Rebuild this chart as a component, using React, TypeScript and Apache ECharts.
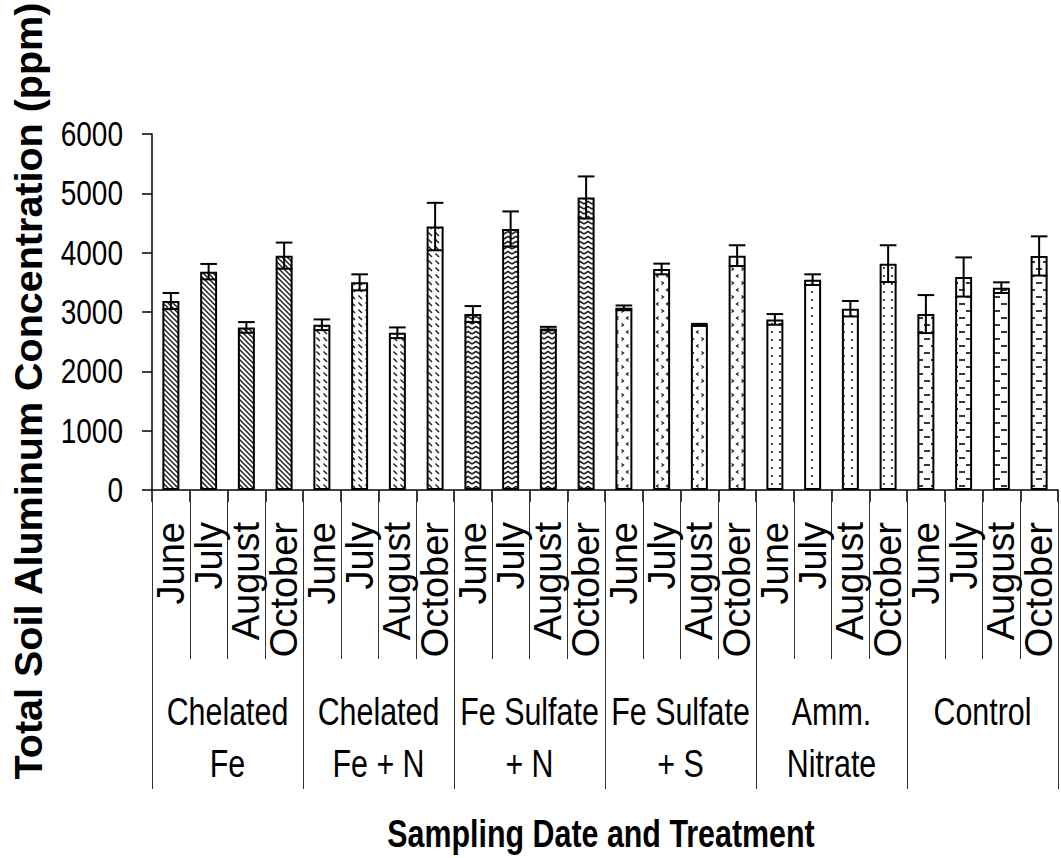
import React, { useEffect, useRef } from "react";
import * as echarts from "echarts";

const months = ["June", "July", "August", "October"];
const treatments = ["Chelated\nFe", "Chelated\nFe + N", "Fe Sulfate\n+ N", "Fe Sulfate\n+ S", "Amm.\nNitrate", "Control"];

const chelatedFe = [3185, 3680, 2740, 3950];
const chelatedFeErr = [135, 130, 90, 220];
const chelatedFeN = [2785, 3500, 2650, 4440];
const chelatedFeNErr = [90, 135, 90, 400];
const feSulfateN = [2965, 4400, 2720, 4930];
const feSulfateNErr = [135, 295, 30, 355];
const feSulfateS = [3070, 3725, 2785, 3950];
const feSulfateSErr = [40, 90, 15, 175];
const ammNitrate = [2875, 3545, 3055, 3815];
const ammNitrateErr = [90, 90, 130, 310];
const control = [2965, 3590, 3410, 3945];
const controlErr = [320, 330, 90, 330];

const yTicks = [0, 1000, 2000, 3000, 4000, 5000, 6000];

const REG = "Liberation Sans";
const NARROW_SCALE = 0.8;

function makePattern(kind: string) {
  const c = document.createElement("canvas");
  let w = 8, h = 8;
  if (kind === "stripes") { w = 5; h = 5; }
  if (kind === "dashdiag") { w = 7; h = 7; }
  if (kind === "chevron") { w = 8; h = 5; }
  if (kind === "arrows") { w = 10; h = 14; }
  if (kind === "dots") { w = 8; h = 8; }
  if (kind === "bricks") { w = 14; h = 14; }
  c.width = w; c.height = h;
  const ctx = c.getContext("2d")!;
  ctx.fillStyle = "#fff";
  ctx.fillRect(0, 0, w, h);
  ctx.strokeStyle = "#222";
  ctx.fillStyle = "#222";
  ctx.lineWidth = 1.5;
  const seg = (a: number, b: number, c2: number, d: number) => { ctx.beginPath(); ctx.moveTo(a, b); ctx.lineTo(c2, d); ctx.stroke(); };
  if (kind === "stripes") {
    seg(-1, -1, 6, 6); seg(-1, 4, 1, 6); seg(4, -1, 6, 1);
  } else if (kind === "dashdiag") {
    seg(1.5, 1.5, 5, 5);
  } else if (kind === "chevron") {
    ctx.beginPath(); ctx.moveTo(0, 4); ctx.lineTo(4, 1.5); ctx.lineTo(8, 4); ctx.stroke();
  } else if (kind === "arrows") {
    ctx.lineWidth = 1.3;
    ctx.beginPath(); ctx.moveTo(1.5, 1.5); ctx.lineTo(3.5, 3); ctx.lineTo(1.5, 4.5); ctx.stroke();
    ctx.beginPath(); ctx.moveTo(8.5, 8.5); ctx.lineTo(6.5, 10); ctx.lineTo(8.5, 11.5); ctx.stroke();
  } else if (kind === "dots") {
    ctx.fillRect(3, 3, 1.8, 1.8);
  } else if (kind === "bricks") {
    ctx.lineWidth = 1.8;
    seg(0, 3, 6, 3); seg(7, 10, 13, 10);
  }
  return { image: c, repeat: "repeat" };
}

export default function App() {
  const ref = useRef<HTMLDivElement>(null);
  useEffect(() => {
    if (!ref.current) return;
    const chart = echarts.init(ref.current, undefined, { renderer: "svg" });
    const groups = [chelatedFe, chelatedFeN, feSulfateN, feSulfateS, ammNitrate, control];
    const errs = [chelatedFeErr, chelatedFeNErr, feSulfateNErr, feSulfateSErr, ammNitrateErr, controlErr];
    const kinds = ["stripes", "dashdiag", "chevron", "arrows", "dots", "bricks"];
    const patterns = kinds.map(makePattern);
    const monthCats: string[] = [];
    const barData: any[] = [];
    const errData: any[] = [];
    groups.forEach((g, gi) => {
      g.forEach((v, mi) => {
        const idx = monthCats.length;
        monthCats.push(months[mi]);
        barData.push({ value: v, itemStyle: { color: patterns[gi] } });
        errData.push([idx, v, errs[gi][mi]]);
      });
    });
    const gridLeft = 152;
    const option: any = {
      animation: false,
      textStyle: { fontFamily: REG },
      grid: { left: gridLeft, right: 3, top: 134, bottom: 368, containLabel: false },
      xAxis: [
        {
          type: "category",
          data: monthCats,
          position: "bottom",
          axisLine: { show: true, lineStyle: { color: "#000", width: 1.5 } },
          axisTick: { show: true, interval: 0, length: 12, lineStyle: { color: "#000", width: 1.5 } },
          axisLabel: {
            show: true, interval: 0, rotate: 90, margin: 32,
            fontFamily: REG, fontSize: 38, color: "#000", padding: [17, 0, 0, 0],
          },
          splitLine: { show: false },
        },
        {
          type: "category",
          data: monthCats,
          position: "bottom",
          axisLine: { show: false },
          axisTick: { show: true, interval: 0, length: 169, lineStyle: { color: "#333", width: 1 } },
          axisLabel: { show: false },
          splitLine: { show: false },
        },
        {
          type: "category",
          data: treatments,
          position: "bottom",
          axisLine: { show: false },
          axisTick: { show: true, interval: 0, length: 299, lineStyle: { color: "#333", width: 1 } },
          axisLabel: { show: false },
          splitLine: { show: false },
        },
      ],
      yAxis: {
        type: "value",
        min: 0, max: 6000, interval: 1000,
        axisLine: { show: true, lineStyle: { color: "#000", width: 1.5 } },
        axisTick: { show: true, length: 10, lineStyle: { color: "#000", width: 1.5 } },
        axisLabel: { show: false },
        splitLine: { show: false },
      },
      series: [
        {
          type: "bar",
          xAxisIndex: 0,
          data: barData,
          barWidth: "45%",
          itemStyle: { borderColor: "#000", borderWidth: 2 },
          z: 2,
        },
        {
          type: "custom",
          xAxisIndex: 0,
          data: errData,
          encode: { x: 0, y: [1] },
          z: 5,
          renderItem: (params: any, api: any) => {
            const i = api.value(0);
            const v = api.value(1);
            const e = api.value(2);
            const hi = api.coord([i, v + e]);
            const lo = api.coord([i, v - e]);
            const hw = api.size([1, 0])[0] * 0.22;
            const style = { stroke: "#000", lineWidth: 2 };
            return {
              type: "group",
              children: [
                { type: "line", shape: { x1: hi[0], y1: hi[1], x2: lo[0], y2: lo[1] }, style },
                { type: "line", shape: { x1: hi[0] - hw, y1: hi[1], x2: hi[0] + hw, y2: hi[1] }, style },
                { type: "line", shape: { x1: lo[0] - hw, y1: lo[1], x2: lo[0] + hw, y2: lo[1] }, style },
              ],
            };
          },
        },
      ],
    };
    chart.setOption(option);

    // Narrow-looking texts (tick labels and group labels), positioned from the axes' own scales
    const axisY = chart.convertToPixel({ yAxisIndex: 0 }, 0) as number;
    const yLabels = yTicks.map((v) => ({
      type: "text",
      x: gridLeft - 29,
      y: chart.convertToPixel({ yAxisIndex: 0 }, v) as number,
      scaleX: NARROW_SCALE,
      style: { text: String(v), fontFamily: REG, fontSize: 35, fill: "#000", align: "right", verticalAlign: "middle" },
    }));
    const groupLabels = treatments.map((t, i) => ({
      type: "text",
      x: chart.convertToPixel({ xAxisIndex: 2 }, i) as number,
      y: axisY + 196,
      scaleX: NARROW_SCALE,
      style: { text: t, fontFamily: REG, fontSize: 38, lineHeight: 52, fill: "#000", align: "center", verticalAlign: "top" },
    }));
    chart.setOption({
      graphic: [
        ...yLabels,
        ...groupLabels,
        {
          type: "text", x: 28, y: 391, rotation: Math.PI / 2,
          style: { text: "Total Soil Aluminum Concentration (ppm)", fontFamily: REG, fontWeight: "bold",
            fontSize: 39.5, fill: "#000", align: "center", verticalAlign: "middle" },
        },
        {
          type: "text", x: 601, y: 834, scaleX: NARROW_SCALE,
          style: { text: "Sampling Date and Treatment", fontFamily: REG, fontWeight: "bold",
            fontSize: 38, fill: "#000", align: "center", verticalAlign: "middle" },
        },
      ],
    });
    return () => chart.dispose();
  }, []);
  return <div ref={ref} style={{ position: "fixed", left: 0, top: 0, width: 1061, height: 858, background: "#fff" }} />;
}
